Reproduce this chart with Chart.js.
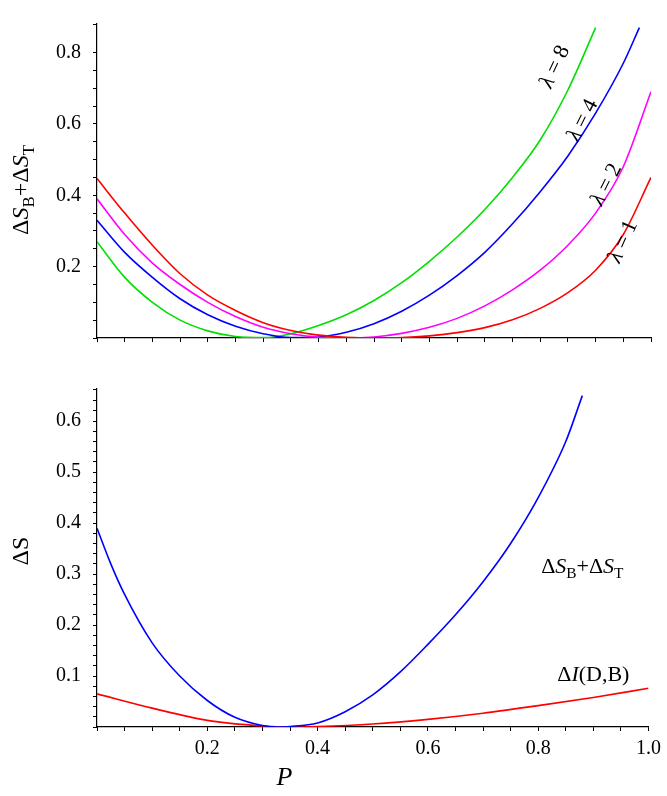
<!DOCTYPE html>
<html>
<head>
<meta charset="utf-8">
<script src="https://cdn.jsdelivr.net/npm/chart.js@4"></script>
<style>
  body { margin: 0; background: #fff; }
  .box { position: absolute; left: 0; width: 667px; }
</style>
</head>
<body>
<div class="box" style="top:0;height:362px"><canvas id="topChart"></canvas></div>
<div class="box" style="top:365px;height:431px"><canvas id="bottomChart"></canvas></div>
<script>
// ---------- data ----------
const pGrid = [0, 0.05, 0.1, 0.15, 0.2, 0.25, 0.3, 0.35, 0.4, 0.45, 0.5, 0.55, 0.6, 0.65, 0.7, 0.75, 0.8, 0.85, 0.9, 0.95, 1.0];
const lambda1 = [0.447, 0.35, 0.26, 0.18, 0.12, 0.077, 0.043, 0.021, 0.008, 0.002, 0, 0.001, 0.006, 0.015, 0.029, 0.051, 0.083, 0.127, 0.19, 0.29, 0.45];
const lambda2 = [0.39, 0.29, 0.21, 0.15, 0.10, 0.06, 0.03, 0.012, 0.002, 0, 0.003, 0.013, 0.03, 0.055, 0.09, 0.135, 0.19, 0.26, 0.35, 0.48, 0.69];
const pLambda4 = [0, 0.05, 0.1, 0.15, 0.2, 0.25, 0.3, 0.35, 0.4, 0.45, 0.5, 0.55, 0.6, 0.65, 0.7, 0.75, 0.8, 0.85, 0.9, 0.95, 0.979];
const lambda4 = [0.33, 0.24, 0.17, 0.11, 0.065, 0.033, 0.012, 0.001, 0.003, 0.016, 0.04, 0.075, 0.12, 0.175, 0.24, 0.32, 0.41, 0.51, 0.63, 0.77, 0.87];
const pLambda8 = [0, 0.05, 0.1, 0.15, 0.2, 0.25, 0.3, 0.35, 0.4, 0.45, 0.5, 0.55, 0.6, 0.65, 0.7, 0.75, 0.8, 0.85, 0.9];
const lambda8 = [0.27, 0.17, 0.10, 0.05, 0.02, 0.004, 0.001, 0.012, 0.035, 0.065, 0.105, 0.155, 0.215, 0.283, 0.36, 0.45, 0.555, 0.695, 0.87];

const pSum = [0, 0.025, 0.05, 0.1, 0.15, 0.2, 0.25, 0.3, 0.33, 0.35, 0.4, 0.45, 0.5, 0.55, 0.6, 0.65, 0.7, 0.75, 0.8, 0.85, 0.88];
const sumBT = [0.39, 0.32, 0.26, 0.165, 0.1, 0.052, 0.019, 0.003, 0, 0.001, 0.008, 0.03, 0.063, 0.108, 0.162, 0.22, 0.285, 0.36, 0.45, 0.56, 0.65];
const pInfo = [0, 0.1, 0.2, 0.3, 0.35, 0.4, 0.5, 0.6, 0.7, 0.8, 0.9, 1.0];
const infoDB = [0.065, 0.037, 0.013, 0.002, 0, 0.001, 0.006, 0.015, 0.027, 0.042, 0.058, 0.076];

const topYTicks = [0.2, 0.4, 0.6, 0.8];
const bottomYTicks = [0.1, 0.2, 0.3, 0.4, 0.5, 0.6];
const bottomXTicks = [0.2, 0.4, 0.6, 0.8, 1.0];

// ---------- helpers ----------
const FONT = '"Liberation Serif", "DejaVu Serif", serif';
const pts = (xs, ys) => xs.map((x, i) => ({ x: x, y: ys[i] }));
const near = (v, list) => list.some(t => Math.abs(t - v) < 1e-6);

function line(data, color) {
    return { data: data, borderColor: color, borderWidth: 1.6, pointRadius: 0, fill: false, cubicInterpolationMode: 'monotone' };
}

// draw text made of parts: {t, it (italic), sub}
function drawRich(ctx, parts, x, y, angle, size, align) {
    ctx.save();
    ctx.translate(x, y);
    ctx.rotate(angle);
    ctx.fillStyle = '#000';
    ctx.textBaseline = 'middle';
    let w = 0;
    const fontOf = p => (p.it ? 'italic ' : '') + (p.sub ? size * 0.7 : size) + 'px ' + FONT;
    parts.forEach(p => { ctx.font = fontOf(p); w += ctx.measureText(p.t).width; });
    let cx = align === 'center' ? -w / 2 : 0;
    parts.forEach(p => {
        ctx.font = fontOf(p);
        ctx.fillText(p.t, cx, p.sub ? size * 0.3 : 0);
        cx += ctx.measureText(p.t).width;
    });
    ctx.restore();
}

const labelPlugin = {
    id: 'labels',
    afterDraw(chart) {
        const ctx = chart.ctx, xs = chart.scales.x, ys = chart.scales.y;
        (chart.options.plugins.labels.items || []).forEach(it => {
            const x = it.px !== undefined ? it.px : xs.getPixelForValue(it.x);
            const y = it.py !== undefined ? it.py : ys.getPixelForValue(it.y);
            drawRich(ctx, it.parts, x, y, it.angle || 0, it.size || 22, it.align || 'center');
        });
    }
};

function axes(cfg) {
    return {
        x: {
            type: 'linear', min: 0, max: 1,
            border: { color: '#000', width: 1.2 },
            grid: { drawOnChartArea: false, tickLength: 4, color: '#000' },
            ticks: {
                stepSize: 0.05, autoSkip: false, maxRotation: 0, color: '#000', padding: 6,
                font: { family: FONT, size: 20 },
                callback: v => (cfg.xLabels && near(v, cfg.xLabels)) ? v.toFixed(1) : ''
            },
            afterFit: s => { s.height = cfg.xHeight; }
        },
        y: {
            type: 'linear', min: 0, max: cfg.yMax,
            border: { color: '#000', width: 1.2 },
            grid: { drawOnChartArea: false, tickLength: 4, color: '#000' },
            ticks: {
                stepSize: cfg.yStep, autoSkip: false, color: '#000', padding: 12,
                font: { family: FONT, size: 20 },
                callback: v => near(v, cfg.yLabels) ? v.toFixed(1) : ''
            },
            afterFit: s => { s.width = 97; }
        }
    };
}

const lam = n => [{ t: 'λ', it: true }, { t: ' = ' + n }];
const dSum = [{ t: 'Δ' }, { t: 'S', it: true }, { t: 'B', sub: true }, { t: '+Δ' }, { t: 'S', it: true }, { t: 'T', sub: true }];

// ---------- top chart ----------
new Chart(document.getElementById('topChart'), {
    type: 'line',
    data: {
        datasets: [
            line(pts(pGrid, lambda1), '#ff0000'),
            line(pts(pGrid, lambda2), '#ff00ff'),
            line(pts(pLambda4, lambda4), '#0000ff'),
            line(pts(pLambda8, lambda8), '#00e000')
        ]
    },
    options: {
        responsive: true, maintainAspectRatio: false, animation: false,
        layout: { padding: { top: 2, right: 16, left: 0, bottom: 0 } },
        scales: axes({ yMax: 0.88, yStep: 0.05, yLabels: topYTicks, xHeight: 12 }),
        plugins: {
            legend: { display: false }, tooltip: { enabled: false },
            labels: {
                items: [
                    { x: 0.827, y: 0.76, angle: -1.13, parts: lam(8) },
                    { x: 0.877, y: 0.61, angle: -1.1, parts: lam(4) },
                    { x: 0.92, y: 0.43, angle: -1.1, parts: lam(2) },
                    { x: 0.95, y: 0.27, angle: -1.15, parts: lam(1) },
                    { px: 22, py: 190, angle: -Math.PI / 2, parts: dSum, size: 24 }
                ]
            }
        }
    },
    plugins: [labelPlugin]
});

// ---------- bottom chart ----------
new Chart(document.getElementById('bottomChart'), {
    type: 'line',
    data: {
        datasets: [
            line(pts(pSum, sumBT), '#0000ff'),
            line(pts(pInfo, infoDB), '#ff0000')
        ]
    },
    options: {
        responsive: true, maintainAspectRatio: false, animation: false,
        layout: { padding: { top: 11, right: 16, left: 0, bottom: 0 } },
        scales: axes({ yMax: 0.663, yStep: 0.02, yLabels: bottomYTicks, xLabels: bottomXTicks, xHeight: 69 }),
        plugins: {
            legend: { display: false }, tooltip: { enabled: false },
            labels: {
                items: [
                    { x: 0.88, y: 0.314, parts: dSum },
                    { x: 0.9, y: 0.102, parts: [{ t: 'Δ' }, { t: 'I', it: true }, { t: '(D,B)' }] },
                    { x: 0.34, py: 413, parts: [{ t: 'P', it: true }], size: 26 },
                    { px: 22, py: 186, angle: -Math.PI / 2, parts: [{ t: 'ΔS' }], size: 24 }
                ]
            }
        }
    },
    plugins: [labelPlugin]
});
</script>
</body>
</html>
